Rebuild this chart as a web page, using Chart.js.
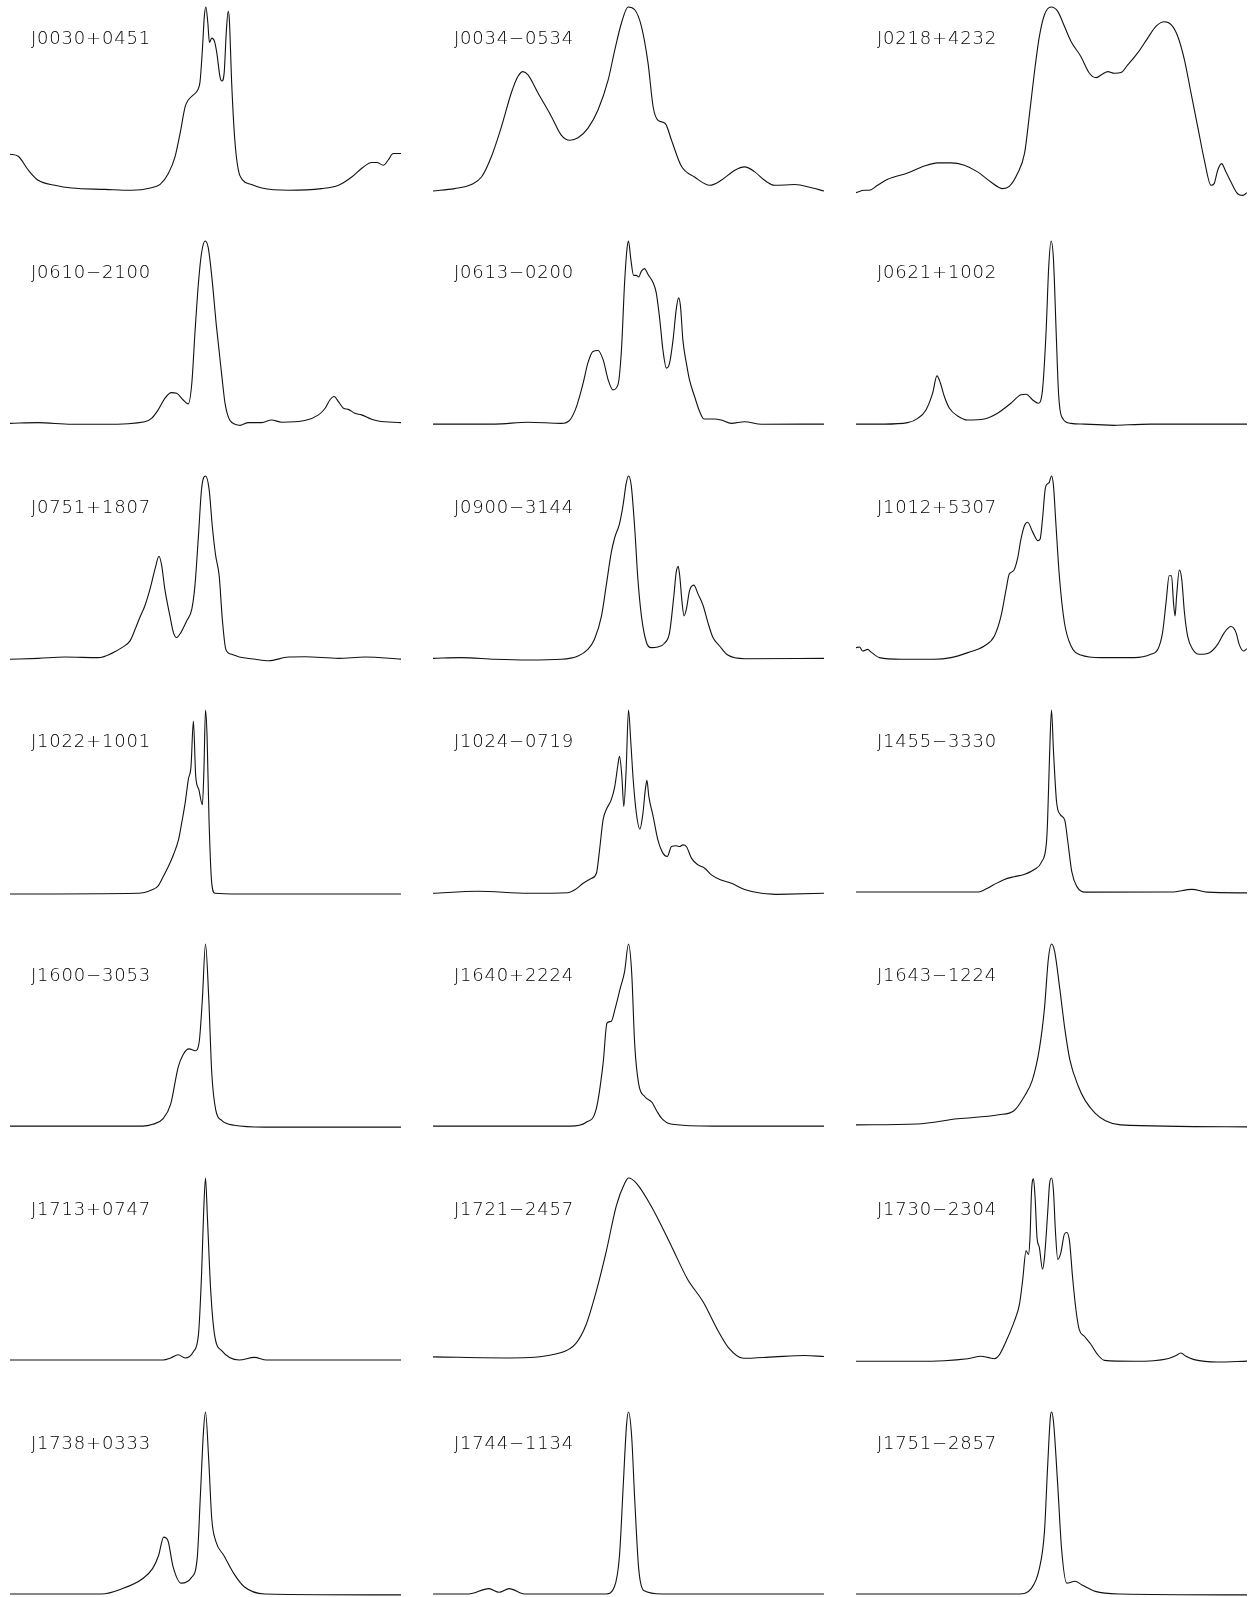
<!DOCTYPE html>
<html lang="en">
<head>
    <meta charset="UTF-8">
    <title>Pulse profiles</title>
    <script src="https://cdn.jsdelivr.net/npm/chart.js"></script>
    <style>
        html, body {
            margin: 0;
            padding: 0;
            background: #fff;
        }
        #page {
            position: relative;
            width: 1251px;
            height: 1597px;
            overflow: hidden;
        }
        .panel {
            position: absolute;
        }
        .label {
            position: absolute;
            font-family: "DejaVu Sans", sans-serif;
            font-weight: 200;
            font-size: 18px;
            line-height: 18px;
            letter-spacing: 0.8px;
            color: #000;
            white-space: nowrap;
        }
    </style>
</head>
<body>
<div id="page"></div>

<script>
// pulsar names, row by row
var names = [
    'J0030+0451', 'J0034\u22120534', 'J0218+4232',
    'J0610\u22122100', 'J0613\u22120200', 'J0621+1002',
    'J0751+1807', 'J0900\u22123144', 'J1012+5307',
    'J1022+1001', 'J1024\u22120719', 'J1455\u22123330',
    'J1600\u22123053', 'J1640+2224', 'J1643\u22121224',
    'J1713+0747', 'J1721\u22122457', 'J1730\u22122304',
    'J1738+0333', 'J1744\u22121134', 'J1751\u22122857'
];

// pulse phase (0..1) and normalised flux (peak = 1)
var phaseJ0030 = [0, .021, .047, .072, .115, .158, .243, .311, .362, .384, .405, .422, .435, .448, .456, .469, .480, .486, .492, .497, .501, .506, .510, .516, .523, .529, .537, .542, .548, .553, .558, .561, .567, .575, .584, .594, .618, .644, .712, .797, .840, .874, .899, .925, .938, .955, .968, .980, 1];
var fluxJ0030  = [.20, .189, .113, .058, .031, .016, .009, .004, .018, .036, .095, .185, .313, .458, .495, .522, .549, .593, .767, .949, 1, .913, .807, .831, .813, .749, .622, .598, .649, .858, .976, .931, .585, .276, .113, .062, .035, .016, .004, .013, .031, .076, .122, .155, .155, .140, .171, .204, .204];

var phaseJ0034 = [0, .055, .098, .124, .149, .175, .200, .217, .230, .243, .269, .303, .328, .350, .371, .396, .422, .448, .465, .482, .499, .516, .533, .550, .563, .575, .594, .610, .635, .669, .708, .737, .772, .797, .823, .848, .874, .925, .968, 1];
var fluxJ0034  = [0, .013, .035, .076, .185, .349, .531, .622, .649, .631, .531, .404, .304, .276, .289, .340, .440, .604, .767, .913, 1, .985, .895, .695, .458, .385, .367, .276, .136, .076, .031, .058, .113, .131, .104, .058, .031, .035, .018, 0];

var phaseJ0218 = [0, .021, .034, .055, .081, .132, .175, .209, .243, .277, .311, .345, .375, .392, .413, .431, .443, .456, .469, .482, .499, .516, .533, .550, .575, .597, .614, .631, .644, .661, .678, .695, .720, .746, .767, .789, .806, .823, .840, .857, .874, .891, .908, .916, .925, .935, .946, .959, .976, .989, 1];
var fluxJ0218  = [-.009, .004, .004, .031, .064, .098, .136, .153, .153, .140, .104, .049, .013, .025, .095, .204, .404, .640, .840, .958, 1, .976, .895, .813, .731, .640, .616, .636, .649, .640, .644, .685, .749, .831, .895, .920, .904, .840, .713, .531, .349, .167, .031, .040, .113, .149, .104, .049, -.015, -.024, -.009];

var phaseJ0610 = [0, .072, .158, .243, .345, .362, .379, .396, .413, .426, .443, .456, .465, .473, .482, .490, .499, .507, .516, .528, .541, .550, .563, .588, .610, .644, .669, .695, .754, .789, .806, .818, .829, .840, .853, .865, .882, .899, .925, .942, 1];
var fluxJ0610  = [.009, .013, .004, .004, .018, .036, .082, .145, .176, .173, .136, .115, .227, .500, .773, .936, 1, .964, .809, .536, .282, .118, .024, -.002, .013, .013, .027, .015, .024, .055, .091, .136, .155, .127, .091, .085, .064, .055, .031, .022, .013];

var phaseJ0613 = [0, .158, .243, .328, .350, .367, .384, .396, .409, .422, .435, .448, .460, .473, .482, .490, .496, .500, .506, .513, .520, .526, .533, .541, .550, .563, .571, .580, .588, .597, .605, .614, .622, .628, .633, .639, .648, .656, .669, .682, .693, .720, .737, .763, .797, .840, 1];
var fluxJ0613  = [.005, .005, .015, .009, .027, .100, .227, .336, .400, .405, .355, .245, .191, .218, .409, .773, .955, 1, .900, .813, .813, .804, .836, .850, .818, .773, .718, .573, .409, .309, .336, .464, .627, .691, .645, .464, .336, .245, .155, .073, .033, .033, .027, .009, .018, .004, .005];

var phaseJ0621 = [0, .072, .132, .158, .179, .196, .207, .216, .226, .239, .260, .286, .328, .362, .396, .422, .435, .452, .466, .477, .486, .493, .499, .505, .512, .518, .526, .550, .584, .661, .754, 1];
var fluxJ0621  = [.005, .005, .013, .036, .082, .173, .267, .227, .155, .091, .049, .027, .033, .064, .118, .164, .167, .136, .118, .191, .500, .864, 1, .900, .500, .173, .045, .009, .005, -.002, .005, .005];

var phaseJ0751 = [0, .072, .141, .226, .260, .286, .307, .320, .332, .345, .358, .371, .381, .388, .396, .409, .418, .426, .437, .452, .465, .473, .482, .490, .500, .509, .518, .526, .535, .543, .552, .567, .584, .627, .661, .712, .754, .840, .908, 1];
var fluxJ0751  = [.004, .009, .016, .013, .036, .067, .104, .167, .231, .295, .385, .495, .564, .513, .385, .240, .149, .122, .149, .213, .276, .404, .676, .931, 1, .931, .713, .567, .458, .222, .058, .031, .018, .004, -.004, .016, .018, .009, .016, .005];

var phaseJ0900 = [0, .072, .158, .243, .328, .371, .396, .413, .431, .443, .456, .465, .477, .486, .494, .500, .507, .516, .524, .533, .546, .558, .575, .592, .605, .616, .622, .627, .631, .637, .642, .648, .656, .667, .678, .691, .703, .716, .733, .754, .797, 1];
var fluxJ0900  = [.009, .013, .004, 0, .004, .022, .058, .113, .240, .404, .585, .667, .740, .840, .958, 1, .949, .713, .440, .240, .095, .067, .071, .091, .149, .349, .476, .509, .458, .313, .240, .276, .376, .407, .358, .295, .204, .122, .076, .027, .007, .009];

var phaseJ1012 = [0, .009, .017, .030, .038, .060, .115, .200, .243, .286, .328, .354, .371, .384, .392, .403, .413, .422, .431, .439, .452, .465, .471, .477, .484, .490, .494, .500, .505, .511, .520, .533, .550, .575, .627, .712, .754, .772, .784, .793, .801, .807, .812, .816, .820, .827, .833, .840, .848, .861, .878, .904, .925, .942, .959, .972, .980, .991, 1];
var fluxJ1012  = [.067, .071, .049, .058, .044, .013, .004, .004, .013, .040, .076, .131, .240, .385, .467, .485, .549, .658, .731, .749, .695, .649, .658, .767, .931, .958, .964, 1, .949, .749, .458, .204, .076, .027, .013, .013, .031, .058, .149, .313, .458, .458, .313, .240, .349, .489, .440, .258, .131, .058, .031, .040, .085, .149, .182, .149, .085, .049, .062];

var phaseJ1022 = [0, .328, .362, .379, .392, .405, .418, .431, .439, .448, .456, .463, .469, .475, .483, .492, .496, .500, .504, .509, .516, .524, .584, 1];
var fluxJ1022  = [0, .004, .022, .044, .095, .149, .213, .295, .385, .495, .622, .695, .940, .640, .567, .485, .676, 1, .858, .404, .058, .004, 0, 0];

var phaseJ1024 = [0, .115, .243, .345, .362, .384, .405, .418, .426, .435, .443, .456, .465, .473, .477, .483, .488, .494, .500, .506, .512, .520, .529, .537, .543, .547, .552, .563, .575, .588, .599, .610, .622, .631, .639, .648, .661, .678, .695, .712, .737, .763, .797, .840, .882, 1];
var fluxJ1024  = [.004, .015, .004, .007, .022, .058, .085, .113, .240, .404, .458, .513, .585, .704, .749, .640, .476, .676, 1, .822, .622, .440, .353, .440, .567, .618, .531, .422, .295, .222, .204, .258, .262, .258, .267, .258, .195, .158, .140, .104, .076, .058, .025, .004, -.002, .004];

var phaseJ1455 = [0, .313, .333, .352, .378, .404, .430, .456, .474, .487, .490, .495, .500, .505, .513, .523, .534, .542, .552, .565, .586, .807, .859, .898, 1];
var fluxJ1455  = [.011, .011, .028, .050, .078, .094, .106, .133, .172, .278, .40, .75, 1, .78, .50, .43, .40, .28, .12, .04, .01, .011, .025, .01, .006];

var phaseJ1600 = [0, .339, .365, .391, .411, .430, .443, .458, .474, .484, .492, .500, .508, .516, .526, .542, .573, .651, 1];
var fluxJ1600  = [.01, .01, .02, .05, .13, .33, .40, .43, .42, .47, .70, 1, .72, .30, .10, .04, .015, .005, .005];

var phaseJ1640 = [0, .352, .391, .417, .435, .445, .456, .466, .479, .490, .500, .508, .516, .526, .542, .560, .573, .586, .612, .716, 1];
var fluxJ1640  = [.01, .01, .03, .10, .35, .57, .58, .65, .76, .85, 1, .85, .45, .24, .17, .14, .09, .05, .02, .01, .01];

var phaseJ1643 = [0, .156, .260, .365, .404, .430, .451, .469, .482, .492, .500, .508, .521, .534, .547, .568, .586, .612, .638, .677, 1];
var fluxJ1643  = [.017, .022, .05, .072, .094, .17, .26, .43, .65, .92, 1, .96, .76, .54, .37, .23, .15, .08, .04, .017, .006];

var phaseJ1713 = [0, .391, .411, .430, .448, .469, .482, .490, .495, .500, .505, .513, .523, .542, .586, .625, .656, 1];
var fluxJ1713  = [.011, .011, .022, .039, .022, .056, .15, .48, .80, 1, .78, .40, .15, .06, .011, .025, .011, .011];

var phaseJ1721 = [0, .195, .326, .365, .391, .417, .443, .469, .490, .500, .521, .560, .612, .651, .690, .729, .755, .794, .872, .951, 1];
var fluxJ1721  = [.028, .022, .05, .10, .20, .38, .60, .85, .97, 1, .97, .84, .62, .45, .33, .17, .08, .02, .028, .035, .03];

var phaseJ1730 = [0, .158, .286, .320, .337, .354, .367, .384, .405, .418, .426, .435, .441, .445, .449, .454, .458, .463, .469, .477, .482, .490, .495, .500, .505, .510, .516, .524, .533, .539, .546, .554, .563, .571, .584, .601, .618, .635, .712, .797, .818, .831, .844, .865, .925, 1];
var fluxJ1730  = [.004, .004, .018, .031, .025, .018, .040, .113, .222, .313, .440, .604, .585, .676, .931, .995, .895, .676, .622, .504, .567, .804, .967, 1, .931, .713, .558, .595, .695, .704, .658, .458, .276, .176, .140, .095, .040, .009, .004, .018, .035, .049, .031, .013, 0, .005];

var phaseJ1738 = [0, .234, .286, .339, .365, .380, .393, .404, .417, .438, .464, .479, .487, .495, .500, .508, .516, .526, .547, .573, .599, .651, 1];
var fluxJ1738  = [.011, .011, .039, .094, .15, .22, .32, .30, .16, .07, .10, .21, .55, .90, 1, .75, .42, .30, .22, .12, .05, .011, .006];

var phaseJ1744 = [0, .091, .143, .169, .195, .234, .443, .464, .477, .487, .495, .500, .508, .516, .526, .539, .586, 1];
var fluxJ1744  = [.011, .011, .04, .02, .04, .011, .011, .05, .22, .62, .93, 1, .87, .52, .15, .03, .011, .011];

var phaseJ1751 = [0, .417, .448, .469, .482, .490, .497, .500, .505, .516, .526, .539, .560, .578, .612, .677, 1];
var fluxJ1751  = [.011, .011, .04, .15, .35, .70, .97, 1, .95, .60, .25, .07, .08, .06, .025, .011, .006];

var profiles = [
    [phaseJ0030, fluxJ0030], [phaseJ0034, fluxJ0034], [phaseJ0218, fluxJ0218],
    [phaseJ0610, fluxJ0610], [phaseJ0613, fluxJ0613], [phaseJ0621, fluxJ0621],
    [phaseJ0751, fluxJ0751], [phaseJ0900, fluxJ0900], [phaseJ1012, fluxJ1012],
    [phaseJ1022, fluxJ1022], [phaseJ1024, fluxJ1024], [phaseJ1455, fluxJ1455],
    [phaseJ1600, fluxJ1600], [phaseJ1640, fluxJ1640], [phaseJ1643, fluxJ1643],
    [phaseJ1713, fluxJ1713], [phaseJ1721, fluxJ1721], [phaseJ1730, fluxJ1730],
    [phaseJ1738, fluxJ1738], [phaseJ1744, fluxJ1744], [phaseJ1751, fluxJ1751]
];

// grid layout (px)
var colLeft = [10, 433, 856];
var panelW = 391;
var panelH = 184;
var rowTop = [7, 241, 476, 710, 944, 1178, 1412];
var padTop = 4, padBottom = 10;

var page = document.getElementById('page');

profiles.forEach(function (p, i) {
    var row = Math.floor(i / 3);
    var col = i % 3;
    var left = colLeft[col];
    var top = rowTop[row];

    var canvas = document.createElement('canvas');
    canvas.className = 'panel';
    canvas.width = panelW;
    canvas.height = panelH + padTop + padBottom;
    canvas.style.left = left + 'px';
    canvas.style.top = (top - padTop) + 'px';
    page.appendChild(canvas);

    var label = document.createElement('div');
    label.className = 'label';
    label.textContent = names[i];
    label.style.left = (left + 21) + 'px';
    label.style.top = (top + 22) + 'px';
    page.appendChild(label);

    var points = p[0].map(function (x, k) {
        return { x: x, y: p[1][k] };
    });

    new Chart(canvas.getContext('2d'), {
        type: 'line',
        data: {
            datasets: [{
                data: points,
                borderColor: '#111',
                borderWidth: 1.1,
                pointRadius: 0,
                fill: false,
                cubicInterpolationMode: 'monotone',
                clip: false
            }]
        },
        options: {
            responsive: false,
            animation: false,
            events: [],
            layout: { padding: { top: padTop, bottom: padBottom, left: 0, right: 0 } },
            plugins: {
                legend: { display: false },
                tooltip: { enabled: false },
                title: { display: false }
            },
            scales: {
                x: { type: 'linear', min: 0, max: 1, display: false },
                y: { type: 'linear', min: 0, max: 1, display: false }
            }
        }
    });
});
</script>
</body>
</html>
